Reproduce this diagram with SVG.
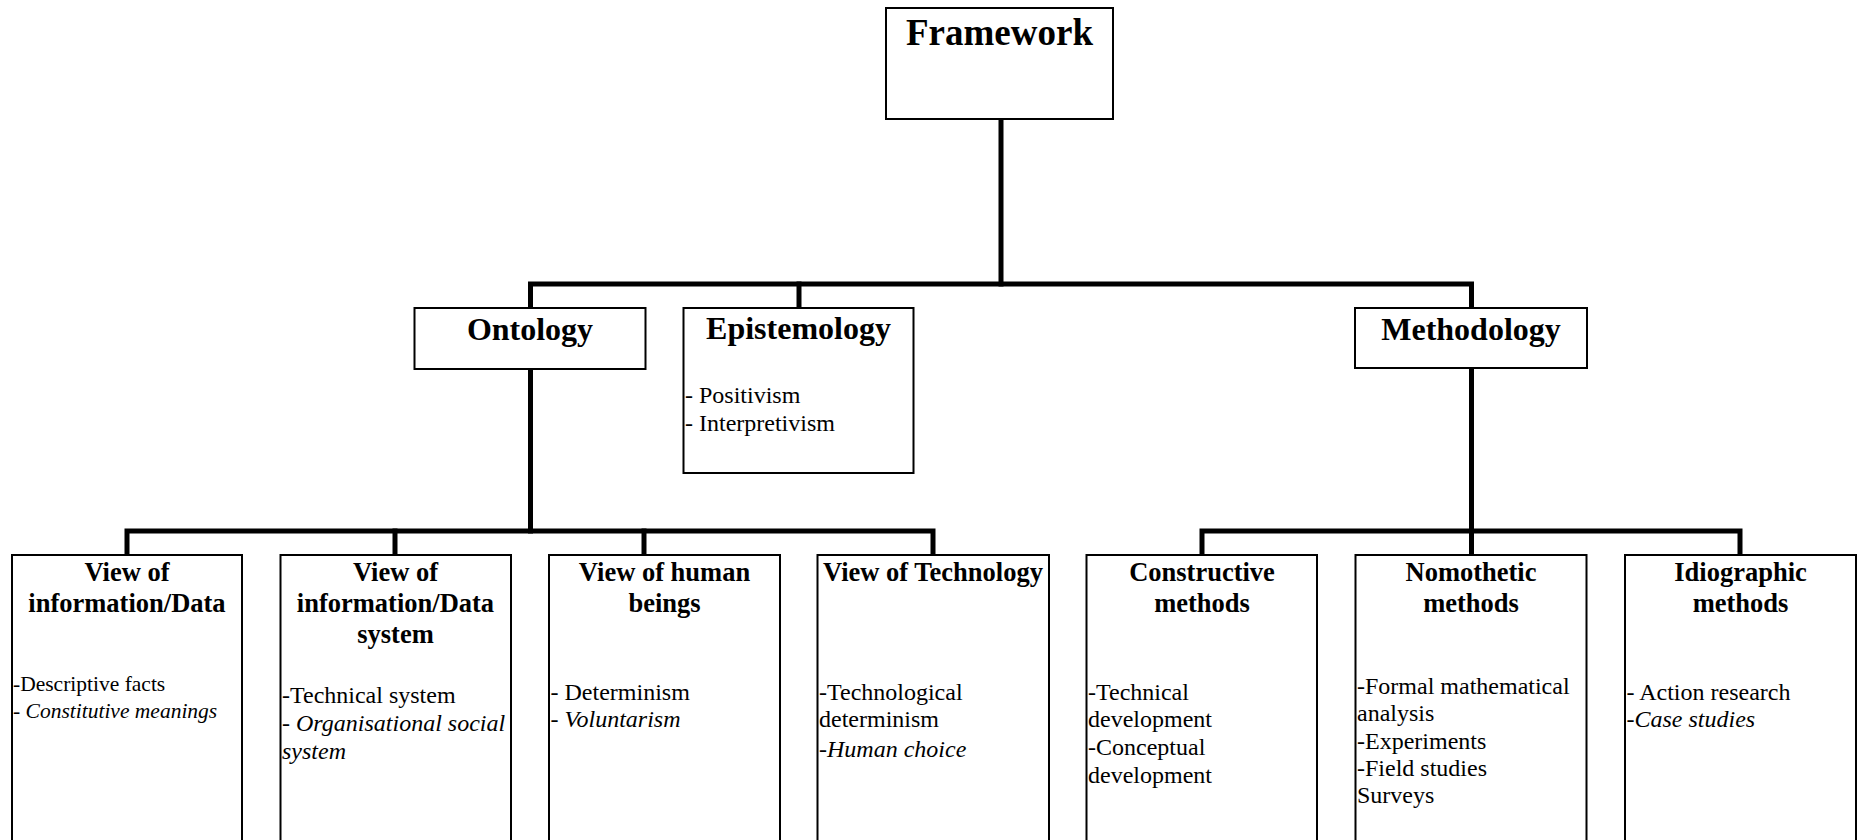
<svg xmlns="http://www.w3.org/2000/svg" width="1863" height="840" viewBox="0 0 1863 840">
<style>
.box{fill:#fff;stroke:#000;stroke-width:2}
.conn{fill:none;stroke:#000;stroke-width:5;stroke-linecap:square;stroke-linejoin:miter}
text{font-family:"Liberation Serif","Times New Roman",serif;fill:#000}
.top{font-size:37px;font-weight:bold;text-anchor:middle}
.h1{font-size:32px;font-weight:bold;text-anchor:middle}
.h2{font-size:26.5px;font-weight:bold;text-anchor:middle}
.b{font-size:24px}
.s{font-size:21.5px}
.i{font-style:italic}
</style>
<rect width="1863" height="840" fill="#fff"/>
<g id="connectors">
<path class="conn" d="M1001 120 V284"/>
<path class="conn" d="M530.5 307 V284 H1471.5 V307"/>
<path class="conn" d="M799 284 V307"/>
<path class="conn" d="M530.5 369 V531"/>
<path class="conn" d="M127 554 V531 H933 V554"/>
<path class="conn" d="M395 531 V554"/>
<path class="conn" d="M644 531 V554"/>
<path class="conn" d="M1471.5 368 V554"/>
<path class="conn" d="M1202 554 V531 H1740 V554"/>
</g>
<g id="framework">
<rect class="box" x="886" y="8" width="227" height="111"/>
<text class="top" x="999.5" y="45">Framework</text>
</g>
<g id="ontology">
<rect class="box" x="414.5" y="308" width="231" height="61"/>
<text class="h1" x="530" y="340">Ontology</text>
</g>
<g id="epistemology">
<rect class="box" x="683.5" y="308" width="230" height="165"/>
<text class="h1" x="798.5" y="339">Epistemology</text>
<text class="b" x="685" y="403">- Positivism</text>
<text class="b" x="685" y="431">- Interpretivism</text>
</g>
<g id="methodology">
<rect class="box" x="1355" y="308" width="232" height="60"/>
<text class="h1" x="1471" y="340">Methodology</text>
</g>
<g id="view-data">
<rect class="box" x="12" y="555" width="230" height="300"/>
<text class="h2" x="127" y="581">View of</text>
<text class="h2" x="127" y="612">information/Data</text>
<text class="s" x="13" y="691">-Descriptive facts</text>
<text class="s" x="13" y="718">- <tspan class="i">Constitutive meanings</tspan></text>
</g>
<g id="view-system">
<rect class="box" x="280.5" y="555" width="230.5" height="300"/>
<text class="h2" x="395.5" y="581">View of</text>
<text class="h2" x="395.5" y="612">information/Data</text>
<text class="h2" x="395.5" y="643">system</text>
<text class="b" x="282" y="703">-Technical system</text>
<text class="b" x="282" y="731">- <tspan class="i">Organisational social</tspan></text>
<text class="b i" x="282" y="759">system</text>
</g>
<g id="view-human">
<rect class="box" x="549" y="555" width="231" height="300"/>
<text class="h2" x="664.5" y="581">View of human</text>
<text class="h2" x="664.5" y="612">beings</text>
<text class="b" x="550.5" y="700">- Determinism</text>
<text class="b" x="550.5" y="727">- <tspan class="i">Voluntarism</tspan></text>
</g>
<g id="view-technology">
<rect class="box" x="817.5" y="555" width="231.5" height="300"/>
<text class="h2" x="933" y="581">View of Technology</text>
<text class="b" x="819" y="700">-Technological</text>
<text class="b" x="819" y="727">determinism</text>
<text class="b" x="819" y="757">-<tspan class="i">Human choice</tspan></text>
</g>
<g id="constructive">
<rect class="box" x="1086.5" y="555" width="230.5" height="300"/>
<text class="h2" x="1202" y="581">Constructive</text>
<text class="h2" x="1202" y="612">methods</text>
<text class="b" x="1088" y="700">-Technical</text>
<text class="b" x="1088" y="727">development</text>
<text class="b" x="1088" y="755">-Conceptual</text>
<text class="b" x="1088" y="783">development</text>
</g>
<g id="nomothetic">
<rect class="box" x="1355.5" y="555" width="231" height="300"/>
<text class="h2" x="1471" y="581">Nomothetic</text>
<text class="h2" x="1471" y="612">methods</text>
<text class="b" x="1357" y="694">-Formal mathematical</text>
<text class="b" x="1357" y="721">analysis</text>
<text class="b" x="1357" y="749">-Experiments</text>
<text class="b" x="1357" y="776">-Field studies</text>
<text class="b" x="1357" y="803">Surveys</text>
</g>
<g id="idiographic">
<rect class="box" x="1625" y="555" width="231" height="300"/>
<text class="h2" x="1740.5" y="581">Idiographic</text>
<text class="h2" x="1740.5" y="612">methods</text>
<text class="b" x="1626.5" y="700">- Action research</text>
<text class="b" x="1626.5" y="727">-<tspan class="i">Case studies</tspan></text>
</g>
</svg>
